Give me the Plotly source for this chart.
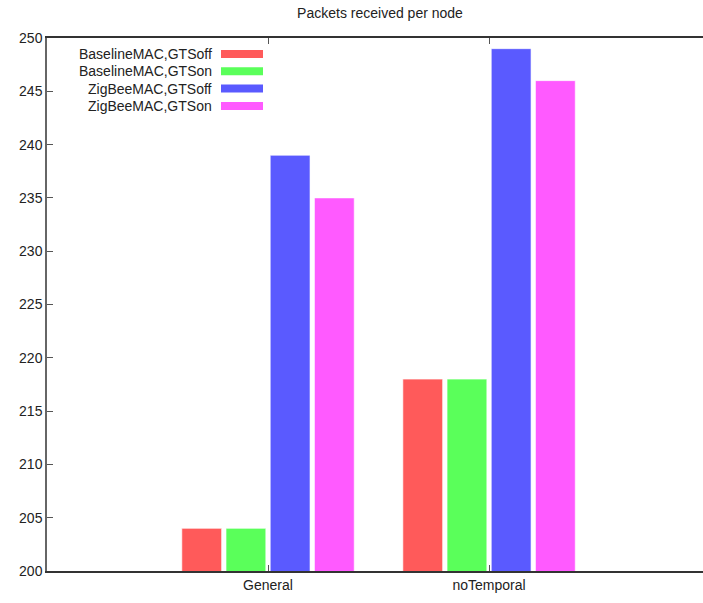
import plotly.graph_objects as go

# Scenario categories and per-configuration packet counts
categories = ["General", "noTemporal"]
series_names = [
    "BaselineMAC,GTSoff",
    "BaselineMAC,GTSon",
    "ZigBeeMAC,GTSoff",
    "ZigBeeMAC,GTSon",
]
baseline_gts_off = [204, 218]
baseline_gts_on = [204, 218]
zigbee_gts_off = [239, 249]
zigbee_gts_on = [235, 246]
series_values = [baseline_gts_off, baseline_gts_on, zigbee_gts_off, zigbee_gts_on]
colors = ["#ff5a5a", "#5aff5a", "#5a5aff", "#ff5aff"]
y_ticks = [200, 205, 210, 215, 220, 225, 230, 235, 240, 245, 250]

FONT = "Liberation Sans, Arial, sans-serif"

fig = go.Figure()
for name, vals, col in zip(series_names, series_values, colors):
    fig.add_trace(go.Bar(
        x=categories, y=vals, name=name,
        marker=dict(color=col, line=dict(color="rgba(255,255,255,0.6)", width=1)),
        showlegend=False,
    ))

# Legend drawn by hand: right-aligned text with a colour swatch to its right
legend_top = 54
row_step = 17.3
for i, (name, col) in enumerate(zip(series_names, colors)):
    yc = legend_top + i * row_step
    fig.add_annotation(
        xref="paper", yref="paper",
        x=(214 - 47) / 656, y=1 - (yc - 38) / 533,
        text=name, showarrow=False, xanchor="right", yanchor="middle",
        font=dict(family=FONT, size=14, color="#222"),
    )
    fig.add_shape(
        type="rect", xref="paper", yref="paper",
        x0=(221 - 47) / 656, x1=(263 - 47) / 656,
        y0=1 - (yc + 4 - 38) / 533, y1=1 - (yc - 4 - 38) / 533,
        fillcolor=col, line=dict(width=0),
    )

fig.update_layout(
    width=703, height=603,
    margin=dict(l=47, r=0, t=38, b=32),
    paper_bgcolor="white", plot_bgcolor="white",
    barmode="group", bargap=0.2, bargroupgap=0.1,
    title=dict(
        text="Packets received per node", x=380 / 703, xanchor="center",
        y=1 - 13 / 603, yanchor="middle",
        font=dict(family=FONT, size=14, color="#222"),
    ),
    font=dict(family=FONT, size=14, color="#222"),
    xaxis=dict(
        range=[-1, 1.968], showgrid=False, zeroline=False,
        showline=True, linecolor="#333", linewidth=2, mirror="ticks",
        ticks="inside", ticklen=6, tickcolor="#555",
        tickfont=dict(family=FONT, size=14, color="#222"),
    ),
    yaxis=dict(
        range=[200, 250], tickvals=y_ticks, showgrid=False, zeroline=False,
        showline=True, linecolor="#666", linewidth=1.5, mirror=False,
        ticks="inside", ticklen=6, tickcolor="#555",
        tickfont=dict(family=FONT, size=14, color="#222"),
    ),
)

fig.write_html("out.html")
